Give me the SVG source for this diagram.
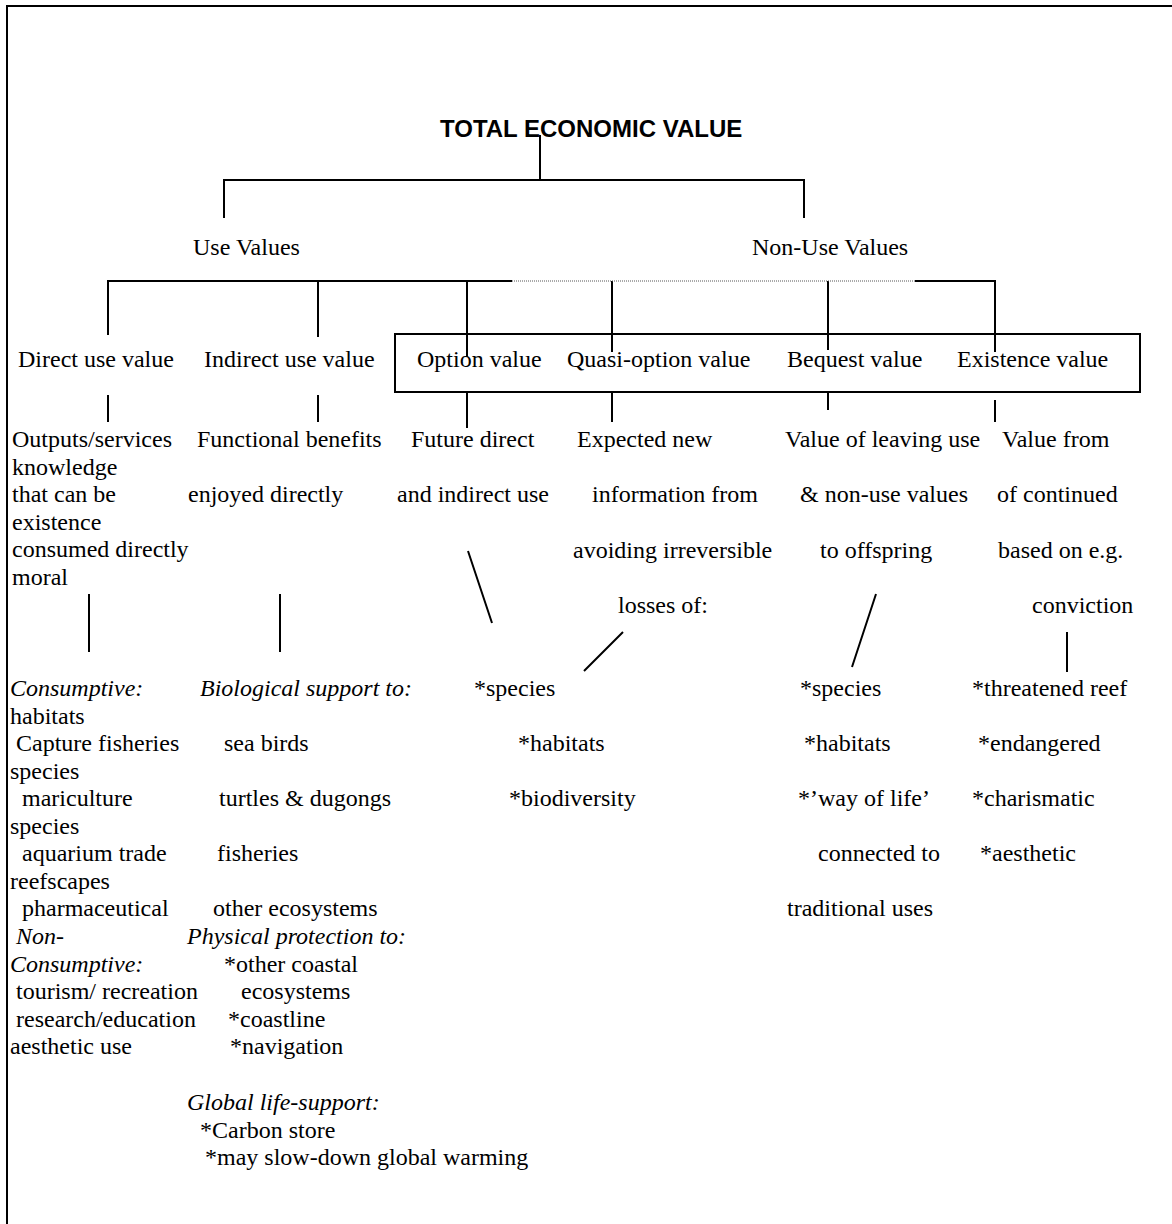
<svg xmlns="http://www.w3.org/2000/svg" width="1172" height="1224" viewBox="0 0 1172 1224">
<style>
text{font-family:"Liberation Serif","Times New Roman",serif;font-size:24px;fill:#000}
.title{font-family:"Liberation Sans",Arial,sans-serif;font-weight:bold}
.it{font-style:italic}
.ln{stroke:#000;stroke-width:2;fill:none}
.dot{stroke:#555;stroke-width:1;stroke-dasharray:1 1;fill:none}
</style>
<rect width="1172" height="1224" fill="#fff"/>
<path class="ln" d="M7,1224 V6 H1172"/>
<g id="connectors">
<path class="ln" d="M540,135 V180 M224,218 V180 H804 V218"/>
<path class="ln" d="M108,335 V281 H512 M915,281 H995 V352 M318,281 V337 M467,281 V357 M612,281 V352 M828,281 V350"/>
<path class="dot" d="M512,281 H915"/>
<path class="ln" d="M108,395 V422 M318,395 V422 M467,392 V428 M612,392 V422 M828,392 V410 M995,400 V422"/>
<path class="ln" d="M89,594 V652 M280,594 V652 M468,551 L492,623 M623,632 L584,671 M876,594 L852,667 M1067,632 V672"/>
</g>
<g id="box-nonuse"><rect class="ln" x="395" y="334" width="745" height="58"/></g>
<g id="tev"><text class="title" x="440" y="137">TOTAL ECONOMIC VALUE</text></g>
<g id="use-values"><text x="193" y="255">Use Values</text></g>
<g id="non-use-values"><text x="752" y="255">Non-Use Values</text></g>
<g id="direct-use">
<text x="18" y="367">Direct use value</text>
<text x="12" y="447">Outputs/services</text>
<text x="12" y="474.5">knowledge</text>
<text x="12" y="502">that can be</text>
<text x="12" y="529.5">existence</text>
<text x="12" y="557">consumed directly</text>
<text x="12" y="584.5">moral</text>
<text class="it" x="10" y="696">Consumptive:</text>
<text x="10" y="723.5">habitats</text>
<text x="10" y="751" xml:space="preserve"> Capture fisheries</text>
<text x="10" y="778.5">species</text>
<text x="10" y="806" xml:space="preserve">  mariculture</text>
<text x="10" y="833.5">species</text>
<text x="10" y="861" xml:space="preserve">  aquarium trade</text>
<text x="10" y="888.5">reefscapes</text>
<text x="10" y="916" xml:space="preserve">  pharmaceutical</text>
<text class="it" x="10" y="944" xml:space="preserve"> Non-</text>
<text class="it" x="10" y="971.5">Consumptive:</text>
<text x="10" y="999" xml:space="preserve"> tourism/ recreation</text>
<text x="10" y="1026.5" xml:space="preserve"> research/education</text>
<text x="10" y="1054">aesthetic use</text>
</g>
<g id="indirect-use">
<text x="204" y="367">Indirect use value</text>
<text x="197" y="447">Functional benefits</text>
<text x="188" y="502">enjoyed directly</text>
<text class="it" x="200" y="696">Biological support to:</text>
<text x="224" y="751">sea birds</text>
<text x="219" y="806">turtles &amp; dugongs</text>
<text x="217" y="861">fisheries</text>
<text x="213" y="916">other ecosystems</text>
<text class="it" x="187" y="944">Physical protection to:</text>
<text x="224" y="971.5">*other coastal</text>
<text x="241" y="999">ecosystems</text>
<text x="228" y="1026.5">*coastline</text>
<text x="230" y="1054">*navigation</text>
<text class="it" x="187" y="1110">Global life-support:</text>
<text x="200" y="1137.5">*Carbon store</text>
<text x="205" y="1165">*may slow-down global warming</text>
</g>
<g id="option">
<text x="417" y="367">Option value</text>
<text x="411" y="447">Future direct</text>
<text x="397" y="502">and indirect use</text>
</g>
<g id="quasi-option">
<text x="567" y="367">Quasi-option value</text>
<text x="577" y="447">Expected new</text>
<text x="592" y="502">information from</text>
<text x="573" y="557.5">avoiding irreversible</text>
<text x="618" y="613">losses of:</text>
<text x="474" y="696">*species</text>
<text x="518" y="751">*habitats</text>
<text x="509" y="806">*biodiversity</text>
</g>
<g id="bequest">
<text x="787" y="367">Bequest value</text>
<text x="785" y="447">Value of leaving use</text>
<text x="800" y="502">&amp; non-use values</text>
<text x="820" y="557.5">to offspring</text>
<text x="800" y="696">*species</text>
<text x="804" y="751">*habitats</text>
<text x="798" y="806">*’way of life’</text>
<text x="818" y="861">connected to</text>
<text x="787" y="916">traditional uses</text>
</g>
<g id="existence">
<text x="957" y="367">Existence value</text>
<text x="1002" y="447">Value from</text>
<text x="997" y="502">of continued</text>
<text x="998" y="557.5">based on e.g.</text>
<text x="1032" y="613">conviction</text>
<text x="972" y="696">*threatened reef</text>
<text x="978" y="751">*endangered</text>
<text x="972" y="806">*charismatic</text>
<text x="980" y="861">*aesthetic</text>
</g>
</svg>
